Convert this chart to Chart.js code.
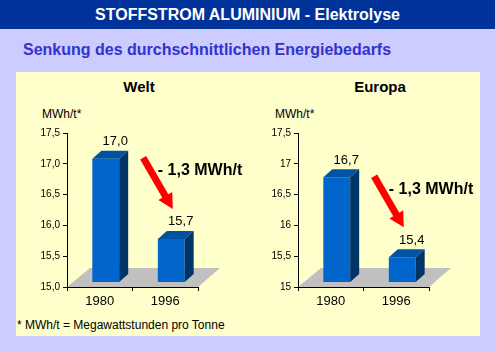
<!DOCTYPE html>
<html>
<head>
<meta charset="utf-8">
<script src="https://cdn.jsdelivr.net/npm/chart.js@4.4.0/dist/chart.umd.min.js"></script>
<style>
  body { margin: 0; width: 495px; height: 352px; background: #CCCCFF; position: relative; overflow: hidden;
         font-family: Arial, "Liberation Sans", sans-serif; }
  #header { position: absolute; left: 0; top: 0; width: 495px; height: 29px; background: #003399; color: #fff;
            font-weight: bold; font-size: 16px; line-height: 30px; text-align: center; }
  #subtitle { position: absolute; left: 23px; top: 41px; color: #3333CC; font-weight: bold; font-size: 16px; line-height: 18px; }
  #panel { position: absolute; left: 16px; top: 72px; width: 464px; height: 264px; background: #FFFFCC; }
  .title { position: absolute; top: 78px; width: 120px; text-align: center; font-weight: bold; font-size: 15px; line-height: 18px; }
  .unit { position: absolute; top: 107px; font-size: 12px; line-height: 14px; }
  #note { position: absolute; left: 17px; top: 318px; font-size: 12px; line-height: 14px; }
  canvas { position: absolute; top: 120px; }
</style>
</head>
<body>
<div id="header">STOFFSTROM ALUMINIUM - Elektrolyse</div>
<div id="subtitle">Senkung des durchschnittlichen Energiebedarfs</div>
<div id="panel"></div>
<div class="title" style="left:79px">Welt</div>
<div class="title" style="left:320px">Europa</div>
<div class="unit" style="left:42px">MWh/t*</div>
<div class="unit" style="left:275px">MWh/t*</div>
<div id="note">* MWh/t = Megawattstunden pro Tonne</div>
<canvas id="welt" width="232" height="200" style="left:16px"></canvas>
<canvas id="europa" width="232" height="200" style="left:247px"></canvas>
<script>
const years = ['1980', '1996'];
const weltValues = [17.0, 15.7];
const europaValues = [16.7, 15.4];
const weltValueLabels = ['17,0', '15,7'];
const europaValueLabels = ['16,7', '15,4'];
const yTicks = [15, 15.5, 16, 16.5, 17, 17.5];
const weltTickLabels = ['15,0', '15,5', '16,0', '16,5', '17,0', '17,5'];
const europaTickLabels = ['15', '15,5', '16', '16,5', '17', '17,5'];
const reductionLabel = '- 1,3 MWh/t';

const FONT = 'Arial, "Liberation Sans", sans-serif';
const DX = 9, DY = 8;        // depth of the 3d bars
const SX = 6, SY = 5;        // bars stand a bit back on the floor

// floor, 3d faces, value labels and the red arrow
const bar3d = {
    id: 'bar3d',
    beforeDraw(chart) {
        const { ctx, chartArea: a } = chart;
        ctx.save();
        ctx.fillStyle = '#C0C0C0';
        ctx.beginPath();
        ctx.moveTo(a.left, a.bottom);
        ctx.lineTo(a.left + 23, a.bottom - 19);
        ctx.lineTo(a.right + 22, a.bottom - 19);
        ctx.lineTo(a.right, a.bottom);
        ctx.closePath();
        ctx.fill();
        ctx.restore();
    },
    beforeDatasetsDraw(chart) {
        chart.ctx.save();
        chart.ctx.translate(SX, -SY);
    },
    afterDatasetsDraw(chart, args, opts) {
        const ctx = chart.ctx;
        const base = chart.chartArea.bottom;
        const bars = chart.getDatasetMeta(0).data.map(b => b.getProps(['x', 'y', 'width'], true));
        bars.forEach((p, i) => {
            const l = p.x - p.width / 2, r = p.x + p.width / 2;
            ctx.fillStyle = '#0052A3';
            ctx.beginPath();
            ctx.moveTo(l, p.y); ctx.lineTo(l + DX, p.y - DY); ctx.lineTo(r + DX, p.y - DY); ctx.lineTo(r, p.y);
            ctx.closePath(); ctx.fill();
            ctx.fillStyle = '#003366';
            ctx.beginPath();
            ctx.moveTo(r, p.y); ctx.lineTo(r + DX, p.y - DY); ctx.lineTo(r + DX, base - DY); ctx.lineTo(r, base);
            ctx.closePath(); ctx.fill();

            ctx.fillStyle = '#000';
            ctx.font = '13px ' + FONT;
            ctx.textAlign = 'center';
            ctx.textBaseline = 'middle';
            ctx.fillText(opts.valueLabels[i], p.x + 9.5, p.y - 17);
        });

        // arrow from first bar down to the second
        const b0 = bars[0], b1 = bars[1];
        const sx = b0.x + b0.width / 2 + 24, sy = b0.y - 1;
        const tx = b1.x - b1.width / 2 + 15, ty = b1.y - 30;
        const len = Math.hypot(tx - sx, ty - sy);
        const ux = (tx - sx) / len, uy = (ty - sy) / len;
        const nx = -uy, ny = ux;
        const hw = 3.5, hl = 15, hh = 8;
        const kx = tx - ux * hl, ky = ty - uy * hl;
        ctx.fillStyle = '#FF0000';
        ctx.beginPath();
        ctx.moveTo(sx + nx * hw, sy + ny * hw);
        ctx.lineTo(kx + nx * hw, ky + ny * hw);
        ctx.lineTo(kx + nx * hh, ky + ny * hh);
        ctx.lineTo(tx, ty);
        ctx.lineTo(kx - nx * hh, ky - ny * hh);
        ctx.lineTo(kx - nx * hw, ky - ny * hw);
        ctx.lineTo(sx - nx * hw, sy - ny * hw);
        ctx.closePath();
        ctx.fill();

        ctx.fillStyle = '#000';
        ctx.font = 'bold 16px ' + FONT;
        ctx.textAlign = 'left';
        ctx.textBaseline = 'middle';
        ctx.fillText(reductionLabel, b1.x - b1.width / 2, b0.y + 12);
        ctx.restore();
    }
};

function makeChart(id, values, valueLabels, tickLabels) {
    new Chart(document.getElementById(id), {
        type: 'bar',
        data: {
            labels: years,
            datasets: [{
                data: values,
                backgroundColor: '#0066CC',
                borderWidth: 0,
                barPercentage: 0.41,
                categoryPercentage: 1
            }]
        },
        options: {
            responsive: false,
            animation: false,
            layout: { padding: { top: 13, right: 50, left: 0, bottom: 0 } },
            plugins: {
                legend: { display: false },
                tooltip: { enabled: false },
                bar3d: { valueLabels: valueLabels }
            },
            scales: {
                x: {
                    grid: { drawOnChartArea: false, color: '#000', tickLength: 4 },
                    border: { color: '#000' },
                    ticks: { color: '#000', font: { size: 13, family: FONT }, padding: 3 },
                    afterFit(axis) { axis.height = 33; }
                },
                y: {
                    min: 15,
                    max: 17.5,
                    grid: { drawOnChartArea: false, color: '#000', tickLength: 4 },
                    border: { color: '#000' },
                    ticks: {
                        stepSize: 0.5,
                        color: '#000',
                        font: { size: 10, family: FONT },
                        padding: 3,
                        callback: v => tickLabels[yTicks.findIndex(t => Math.abs(t - v) < 1e-6)]
                    },
                    afterFit(axis) { axis.width = 51; }
                }
            }
        },
        plugins: [bar3d]
    });
}

makeChart('welt', weltValues, weltValueLabels, weltTickLabels);
makeChart('europa', europaValues, europaValueLabels, europaTickLabels);
</script>
</body>
</html>
